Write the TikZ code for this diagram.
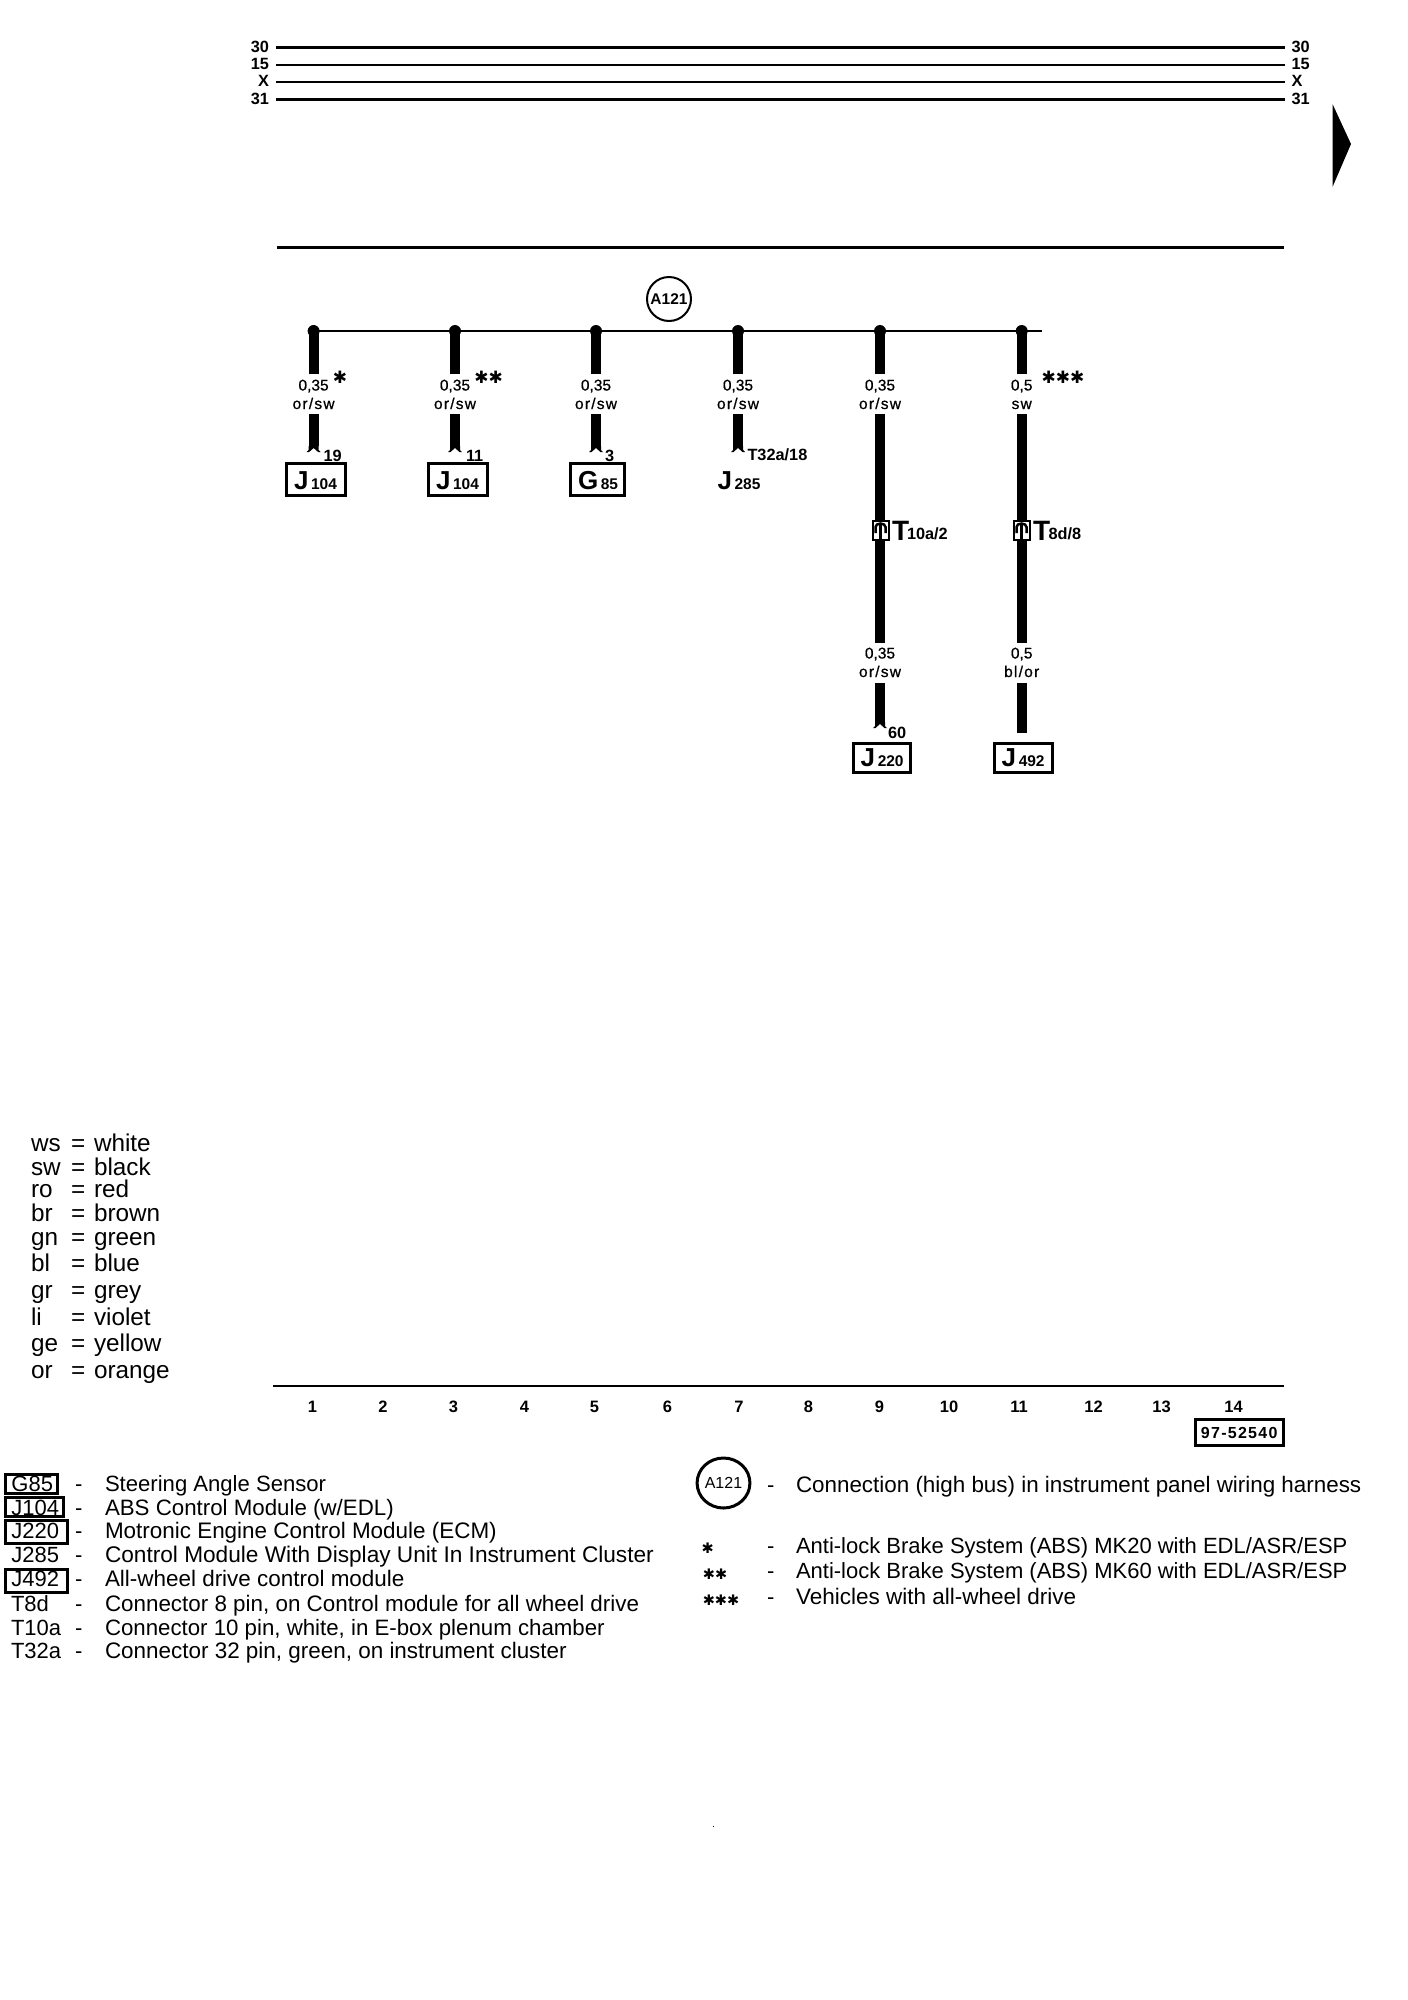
\documentclass[tikz,border=0pt]{standalone}
\usepackage{fontspec}
\usetikzlibrary{shapes.geometric}
\setmainfont{Liberation Sans}
\newfontfamily\labf[FakeBold=0.7]{Liberation Sans}
\newfontfamily\colf[LetterSpace=8,FakeBold=0.7]{Liberation Sans}
\newfontfamily\boldf{Liberation Sans Bold}
\newfontfamily\codef[LetterSpace=8]{Liberation Sans Bold}
\newfontfamily\bigf{Liberation Sans Bold}
\newfontfamily\starf{DejaVu Sans}
\newcommand{\fsz}[1]{\fontsize{#1}{#1}\selectfont}
\tikzset{
  x=1pt,y=-1pt,
  wlab/.style={inner sep=0pt,outer sep=0pt,anchor=base,font=\labf\fsz{15.5}},
  clab/.style={inner sep=0pt,outer sep=0pt,anchor=base,font=\colf\fsz{15.5}},
  pin/.style={inner sep=0pt,outer sep=0pt,anchor=base west,font=\boldf\fsz{16.3}},
  num/.style={inner sep=0pt,outer sep=0pt,anchor=base,font=\boldf\fsz{16.5}},
  legc/.style={inner sep=0pt,outer sep=0pt,anchor=base west,font=\fsz{24.3}},
  legt/.style={inner sep=0pt,outer sep=0pt,anchor=base west,font=\fsz{22}},
  star/.style={inner sep=0pt,outer sep=0pt,anchor=center,font=\starf\bfseries\fsz{17}},
  sstar/.style={inner sep=0pt,outer sep=0pt,anchor=center,font=\starf\bfseries\fsz{14.5}},
  wire/.style={line width=10pt,line cap=butt},
  railh/.style={line width=3pt},
  railt/.style={line width=2pt},
  compbox/.style={draw,line width=3.2pt,fill=white},
  dotn/.style={circle,fill=black,minimum size=12pt,inner sep=0pt},
  bigl/.style={inner sep=0pt,outer sep=0pt,anchor=base west,font=\bigf\fsz{26}},
  subl/.style={inner sep=0pt,outer sep=0pt,anchor=base west,font=\boldf\fsz{15.5}},
  pics/fork/.style={code={
    \fill (-5,-6) -- (5,-6) -- (5,-2) -- (7,0) -- (4.5,0) -- (0,-4) -- (-4.5,0) -- (-7,0) -- (-5,-2) -- cycle;
  }},
  pics/plug/.style={code={
    \draw[line width=2pt,fill=white] (-8,-9.5) rectangle (8,9.5);
    \draw[line width=2.5pt] (-5,3) -- (-5,-3) arc (180:0:5 and -3.5) -- (5,3);
    \draw[line width=3.5pt] (0,-6.5) -- (0,9.5);
  }},
}
\newcommand{\comp}[7]{% name, x1, y1, x2, y2, letter, sub
  \draw[compbox] (#2+1.5,#3+1.5) rectangle (#4-1.5,#5-1.5);
  \node[bigl] (#1L) at (#2+9,#5-8) {#6};
  \node[subl] (#1S) at (#1L.base east) {\,#7};
}
\begin{document}
\begin{tikzpicture}
\useasboundingbox (0,0) rectangle (1408,2000);
% rails
\foreach \n/\lbl/\yy/\st in {a/30/47.5/railh,b/15/65/railt,c/X/82/railt,d/31/99.5/railh}{
  \coordinate (r\n l) at (276,\yy);
  \coordinate (r\n r) at (1285,\yy);
  \draw[\st] (r\n l) -- (r\n r);
  \node[pin,anchor=base east] (rl\n) at (269,\yy+4.7) {\lbl};
  \node[pin] (rr\n) at (1291.5,\yy+4.7) {\lbl};
}
\fill (1332.5,104) -- (1351,144) -- (1332.5,187) -- cycle;
\coordinate (ul) at (277,247); \coordinate (ur) at (1284,247);
\draw[railh] (ul) -- (ur);
% bus
\node[circle,draw,line width=2pt,minimum size=44pt,inner sep=0pt,font=\boldf\fsz{15.5}] (a121) at (669,299) {A121};
\coordinate (busl) at (313.6,331); \coordinate (busr) at (1042,331);
\draw[line width=2.5pt] (busl) -- (busr);
\foreach \i/\xx in {1/313.6,2/455,3/596,4/738,5/880,6/1021.7}{
  \node[dotn] (d\i) at (\xx,331) {};
  \coordinate (w\i a) at (\xx,374);
  \coordinate (w\i b) at (\xx,414);
  \draw[wire] (d\i.center) -- (w\i a);
}
\foreach \i/\xx in {1/313.6,2/455,3/596,4/738}{
  \coordinate (f\i) at (\xx,452);
  \draw[wire] (w\i b) -- ([yshift=6pt]f\i);
  \pic at (f\i) {fork};
}
% wire labels
\foreach \i/\xx/\gau/\col in {1/313.6/0{,}35/or{/}sw,2/455/0{,}35/or{/}sw,3/596/0{,}35/or{/}sw,4/738/0{,}35/or{/}sw,5/880/0{,}35/or{/}sw,6/1021.7/0{,}5/sw}{
  \node[wlab] (g\i) at (\xx,390.5) {\gau};
  \node[clab] (c\i) at (\xx,409) {\col};
}
\node[wlab] (g7) at (880,658.5) {0,35};
\node[clab] (c7) at (880,677) {or/sw};
\node[wlab] (g8) at (1021.7,658.5) {0,5};
\node[clab] (c8) at (1021.7,677) {bl/or};
\node[star] (s1) at (340,377) {✱};
\node[star] (s2) at (488.6,377) {✱✱};
\node[star] (s3) at (1063,377) {✱✱✱};
% long wires
\coordinate (w5c) at (880,643); \coordinate (w5d) at (880,683); \coordinate (f5) at (880,728);
\coordinate (w6c) at (1021.7,643); \coordinate (w6d) at (1021.7,683); \coordinate (w6e) at (1021.7,732.7);
\draw[wire] (w5b) -- (w5c);
\draw[wire] (w5d) -- ([yshift=6pt]f5);
\pic at (f5) {fork};
\draw[wire] (w6b) -- (w6c);
\draw[wire] (w6d) -- (w6e);
\pic at (880.5,530) {plug};
\pic at (1021.5,530) {plug};
% pin numbers
\node[pin] (p1) at (323.5,461) {19};
\node[pin] (p2) at (466,461) {11};
\node[pin] (p3) at (605,461) {3};
\node[pin] (p4) at (747.5,460.5) {T32a/18};
\node[pin] (p5) at (888,738.5) {60};
% components
\comp{j1}{285}{462}{347}{497}{J}{104}
\comp{j2}{427}{462}{489}{497}{J}{104}
\comp{g1}{569}{462}{626}{497}{G}{85}
\node[bigl] (j3L) at (717.5,489) {J};
\node[subl] (j3S) at (j3L.base east) {\,285};
\comp{j4}{851.7}{741.7}{912.3}{774}{J}{220}
\comp{j5}{992.7}{741.7}{1054}{774}{J}{492}
% connector names
\node[bigl,font=\bigf\fsz{28}] (t1) at (892,540) {T};
\node[subl,font=\boldf\fsz{16.3}] (t1s) at (907,539) {10a/2};
\node[bigl,font=\bigf\fsz{28}] (t2) at (1033,540) {T};
\node[subl,font=\boldf\fsz{16.3}] (t2s) at (1048.5,539) {8d/8};
% colour key
\foreach \i/\ka/\kb/\yy in {1/ws/white/1151.7,2/sw/black/1175,3/ro/red/1197,4/br/brown/1221.7,5/gn/green/1245,6/bl/blue/1271.7,7/gr/grey/1298,8/li/violet/1325,9/ge/yellow/1351.7,10/or/orange/1378}{
  \node[legc] (ka\i) at (31,\yy) {\ka};
  \node[legc] (ke\i) at (71,\yy) {=};
  \node[legc] (kb\i) at (94,\yy) {\kb};
}
% bottom ruler
\coordinate (bl) at (273,1385.7); \coordinate (br) at (1284,1385.7);
\draw[railt] (bl) -- (br);
\foreach \i/\xx in {1/312.5,2/383,3/453.5,4/524.5,5/594.5,6/667.5,7/739,8/808.5,9/879.5,10/949,11/1019,12/1093.5,13/1161.5,14/1233.5}{
  \node[num] (n\i) at (\xx,1412.5) {\i};
}
\node[draw,line width=3pt,minimum width=88pt,minimum height=26pt,inner sep=0pt,font=\codef\fsz{16}] (code) at (1239.2,1432.5) {97-52540};
% component key
\foreach \nm/\xa/\ya/\xb/\yb in {kg/4/1473/58.5/1495,kj/4/1495.5/65/1518,kk/4/1518.5/68.5/1545,km/4/1568/68.5/1594}{
  \draw[line width=3pt] (\xa+1.5,\ya+1.5) rectangle (\xb-1.5,\yb-1.5);
}
\foreach \i/\ka/\xx/\yy/\fs/\txa in {
  1/G85/11.5/1491.7/22.1/Steering Angle Sensor,
  2/J104/11.5/1515.7/22.3/ABS Control Module (w{/}EDL),
  3/J220/11.5/1538.5/22.45/Motronic Engine Control Module (ECM),
  4/J285/11.5/1562.7/22.65/Control Module With Display Unit In Instrument Cluster,
  5/J492/11.5/1586.7/22.45/All-wheel drive control module,
  6/T8d/11/1611/22.4/{Connector 8 pin, on Control module for all wheel drive},
  7/T10a/11/1635/22.25/{Connector 10 pin, white, in E-box plenum chamber},
  8/T32a/11/1658/22.45/{Connector 32 pin, green, on instrument cluster}}{
  \node[legt] (la\i) at (\xx,\yy) {\ka};
  \node[legt] (ld\i) at (75,\yy) {-};
  \node[legt] (lt\i) at (105,\yy) {\fsz{\fs}\txa};
}
% right key
\node[ellipse,draw,line width=3pt,minimum width=47pt,minimum height=50pt,inner sep=0pt,font=\fsz{16}] (ka) at (723.5,1483) {A121};
\foreach \i/\yy/\fs/\txa in {
  1/1492.7/22.4/Connection (high bus) in instrument panel wiring harness,
  2/1553/22/Anti-lock Brake System (ABS) MK20 with EDL{/}ASR{/}ESP,
  3/1578/22/Anti-lock Brake System (ABS) MK60 with EDL{/}ASR{/}ESP,
  4/1604/22.5/Vehicles with all-wheel drive}{
  \node[legt] (rd\i) at (767,\yy) {-};
  \node[legt] (rt\i) at (796,\yy) {\fsz{\fs}\txa};
}
\node[sstar] (st1) at (707.6,1548) {✱};
\node[sstar] (st2) at (715,1574) {✱✱};
\node[sstar] (st3) at (721,1600) {✱✱✱};
\fill (713,1825.5) rectangle (714.2,1826.7);
\end{tikzpicture}
\end{document}
